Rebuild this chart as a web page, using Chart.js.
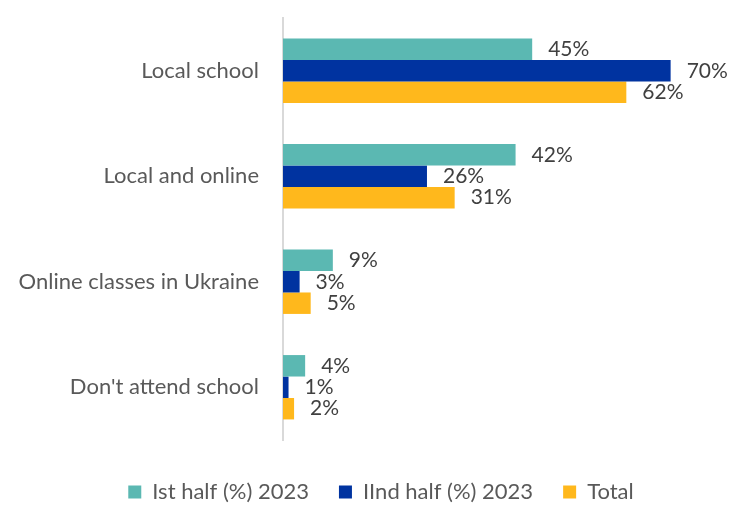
<!DOCTYPE html>
<html>
<head>
<meta charset="utf-8">
<script src="https://cdn.jsdelivr.net/npm/chart.js@4/dist/chart.umd.min.js"></script>
<style>
  html, body { margin: 0; padding: 0; background: #fff; }
  #wrap { width: 740px; height: 505px; position: relative; }
</style>
</head>
<body>
<div id="wrap"><canvas id="chart"></canvas></div>
<script>
const categories = ["Local school", "Local and online", "Online classes in Ukraine", "Don't attend school"];
const seriesNames = ["Ist half (%) 2023", "IInd half (%) 2023", "Total"];
const firstHalf = [45, 42, 9, 4];
const secondHalf = [70, 26, 3, 1];
const total = [62, 31, 5, 2];
const seriesColors = ["#5BB8B2", "#0033A0", "#FFB81C"];

const FONT = "Lato, 'Open Sans', sans-serif";

// Writes each bar's value as a percentage just past the bar's end
const valueLabels = {
  id: 'valueLabels',
  afterDatasetsDraw(chart) {
    const ctx = chart.ctx;
    ctx.save();
    ctx.font = "21px " + FONT;
    ctx.fillStyle = "#404040";
    ctx.textAlign = "left";
    ctx.textBaseline = "middle";
    chart.data.datasets.forEach((ds, i) => {
      const meta = chart.getDatasetMeta(i);
      meta.data.forEach((bar, j) => {
        ctx.fillText(ds.data[j] + "%", bar.x + 16, bar.y);
      });
    });
    ctx.restore();
  }
};

// Centres the legend row a little to the right of the canvas middle
const legendOffset = {
  id: 'legendOffset',
  beforeDraw(chart) {
    if (chart.legend) chart.legend.left = 36;
  }
};

new Chart(document.getElementById('chart'), {
  type: 'bar',
  data: {
    labels: categories,
    datasets: [
      { label: seriesNames[0], data: firstHalf, backgroundColor: seriesColors[0] },
      { label: seriesNames[1], data: secondHalf, backgroundColor: seriesColors[1] },
      { label: seriesNames[2], data: total, backgroundColor: seriesColors[2] }
    ]
  },
  options: {
    indexAxis: 'y',
    responsive: true,
    maintainAspectRatio: false,
    animation: false,
    datasets: { bar: { categoryPercentage: 0.61, barPercentage: 1.0 } },
    layout: { padding: { top: 18, right: 14, bottom: -8, left: 0 } },
    scales: {
      x: {
        display: true,
        min: 0,
        max: 80,
        afterFit(scale) { scale.height = 11; },
        grid: { display: false, drawTicks: false },
        border: { display: false },
        ticks: { display: false }
      },
      y: {
        afterFit(scale) {
          scale.width = 283;
          scale.paddingTop = 0;
          scale.paddingBottom = 0;
        },
        grid: { display: false, drawTicks: false },
        border: { display: true, color: "#D9D9D9", width: 2 },
        ticks: {
          padding: 24,
          color: "#595959",
          font: { family: FONT, size: 22 }
        }
      }
    },
    plugins: {
      legend: {
        position: 'bottom',
        labels: {
          boxWidth: 13,
          boxHeight: 13,
          padding: 30,
          color: "#595959",
          font: { family: FONT, size: 22 }
        }
      },
      tooltip: { enabled: false }
    }
  },
  plugins: [valueLabels, legendOffset]
});
</script>
</body>
</html>
